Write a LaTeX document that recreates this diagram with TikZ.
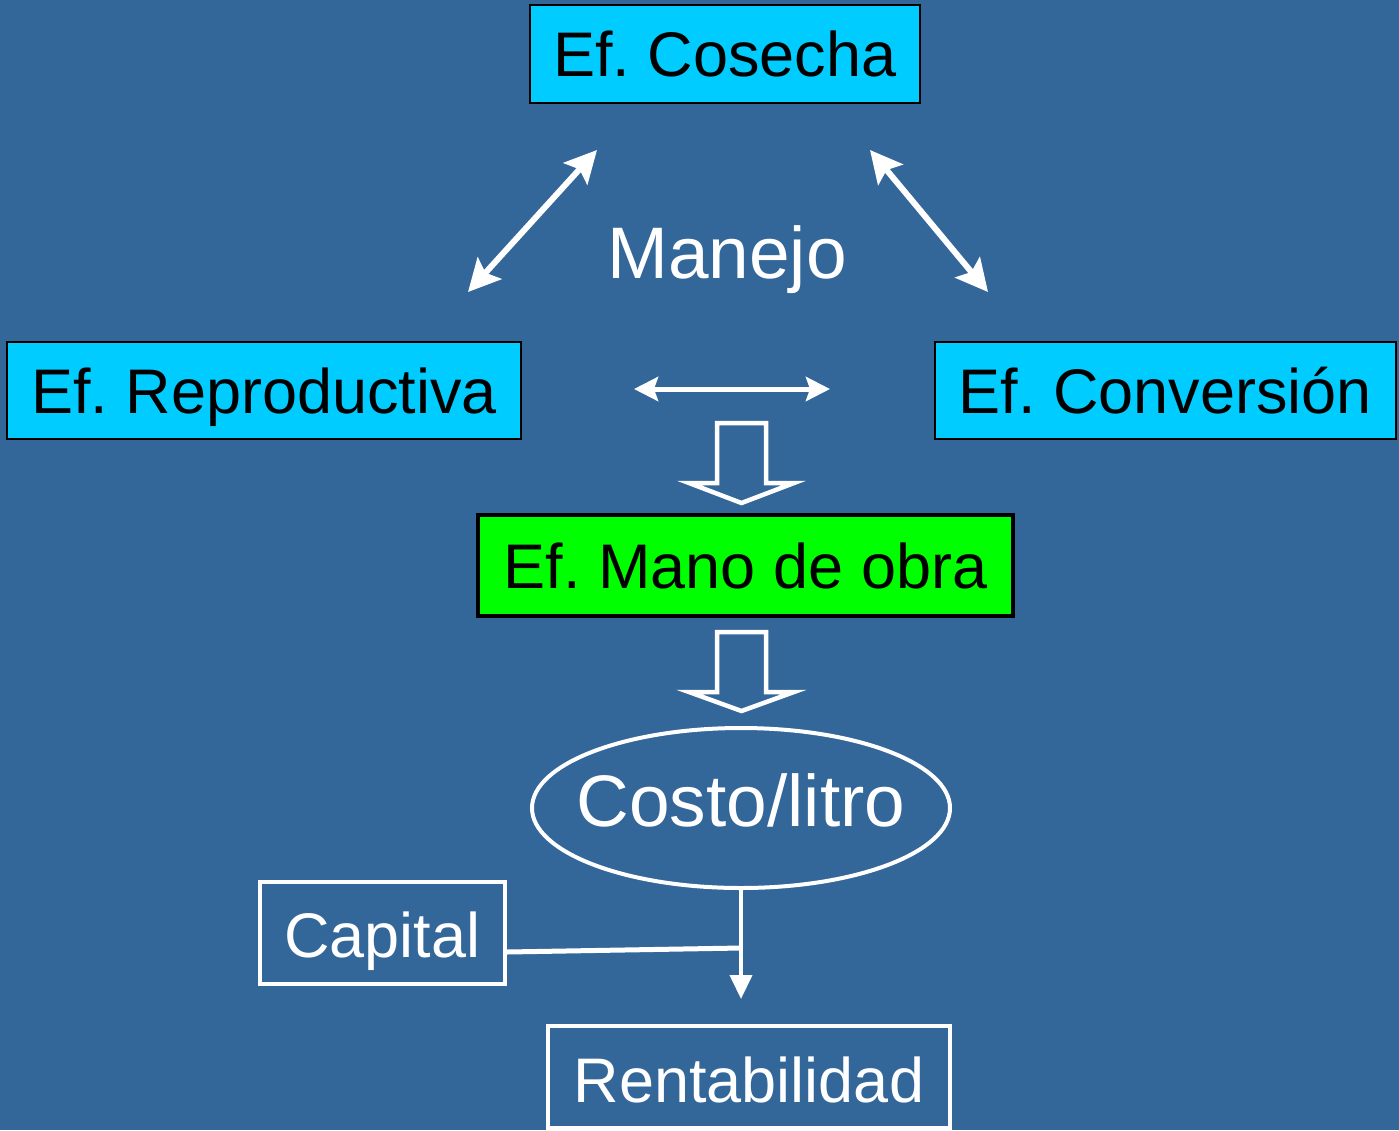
\documentclass[tikz,border=0pt]{standalone}
\usepackage{fontspec}
\setmainfont{Liberation Sans}
\usetikzlibrary{arrows.meta,shapes.geometric}
\definecolor{bgblue}{RGB}{51,102,153}
\definecolor{boxcyan}{RGB}{0,204,255}
\definecolor{boxgreen}{RGB}{0,255,0}
\tikzset{
  effbox/.style={draw=black, line width=1.5pt, fill=boxcyan, inner sep=0pt, text height=45.5pt, text depth=0pt, font=\fontsize{63}{70}\selectfont\frenchspacing, text=black},
  whitebox/.style={draw=white, line width=3.5pt, inner sep=0pt, text depth=0pt, font=\fontsize{63}{70}\selectfont, text=white},
  bigtext/.style={text=white, inner sep=0pt, font=\fontsize{73}{80}\selectfont},
  dbl/.style={draw=white, line width=6pt, {Stealth[length=32pt,width=32pt,inset=6pt]}-{Stealth[length=32pt,width=32pt,inset=6pt]}},
  blockarrow/.style={draw=white, line width=4.5pt, line join=miter},
}
\begin{document}
\begin{tikzpicture}[x=1pt,y=-1pt]
\fill[bgblue] (0,0) rectangle (1399,1130);
\useasboundingbox (0,0) rectangle (1399,1130);

\node[effbox, minimum width=390pt, minimum height=98pt] (cos) at (725,54) {Ef. Cosecha};
\node[effbox, minimum width=514pt, minimum height=97pt] (rep) at (264,390.5) {Ef. Reproductiva};
\node[effbox, minimum width=461pt, minimum height=97pt] (conv) at (1165.5,390.5) {Ef. Conversión};
\node[bigtext, anchor=base] (man) at (727,278) {Manejo};
\node[effbox, fill=boxgreen, line width=3.5pt, minimum width=535pt, minimum height=101pt] (mano) at (745.5,565.5) {Ef. Mano de obra};
\node[draw=white, line width=4pt, ellipse, minimum width=418pt, minimum height=160pt, inner sep=0pt] (costo) at (741,808) {};
\node[bigtext, anchor=base] (costotxt) at (741,826) {Costo/litro};
\node[whitebox, text height=48pt, minimum width=245pt, minimum height=102pt] (cap) at (382.5,933) {Capital};
\node[whitebox, text height=50pt, minimum width=402pt, minimum height=102pt] (rent) at (749,1077) {Rentabilidad};

% double arrows
\coordinate (a1) at (468,292); \coordinate (a2) at (597,150);
\coordinate (b1) at (870,150); \coordinate (b2) at (988,292);
\coordinate (h1) at (634,389); \coordinate (h2) at (830,389);
\draw[dbl] (a1) -- (a2);
\draw[dbl] (b1) -- (b2);
\draw[draw=white, line width=5pt, {Stealth[length=24pt,width=24pt,inset=4pt]}-{Stealth[length=24pt,width=24pt,inset=4pt]}] (h1) -- (h2);

% block arrows
\draw[blockarrow] (717,423) -- (766,423) -- (766,483) -- (794,483) -- (741.5,503) -- (689,483) -- (717,483) -- cycle;
\draw[blockarrow] (717,632) -- (766,632) -- (766,692) -- (794,692) -- (741.5,711) -- (689,692) -- (717,692) -- cycle;

% connectors to Rentabilidad
\coordinate (j) at (741,948);
\coordinate (tip) at (741,999);
\draw[white, line width=4pt, -{Triangle[length=24pt,width=22pt]}] (costo.south) -- (tip);
\draw[white, line width=5pt] (cap.east |- 0,952) -- (j);
\end{tikzpicture}
\end{document}
